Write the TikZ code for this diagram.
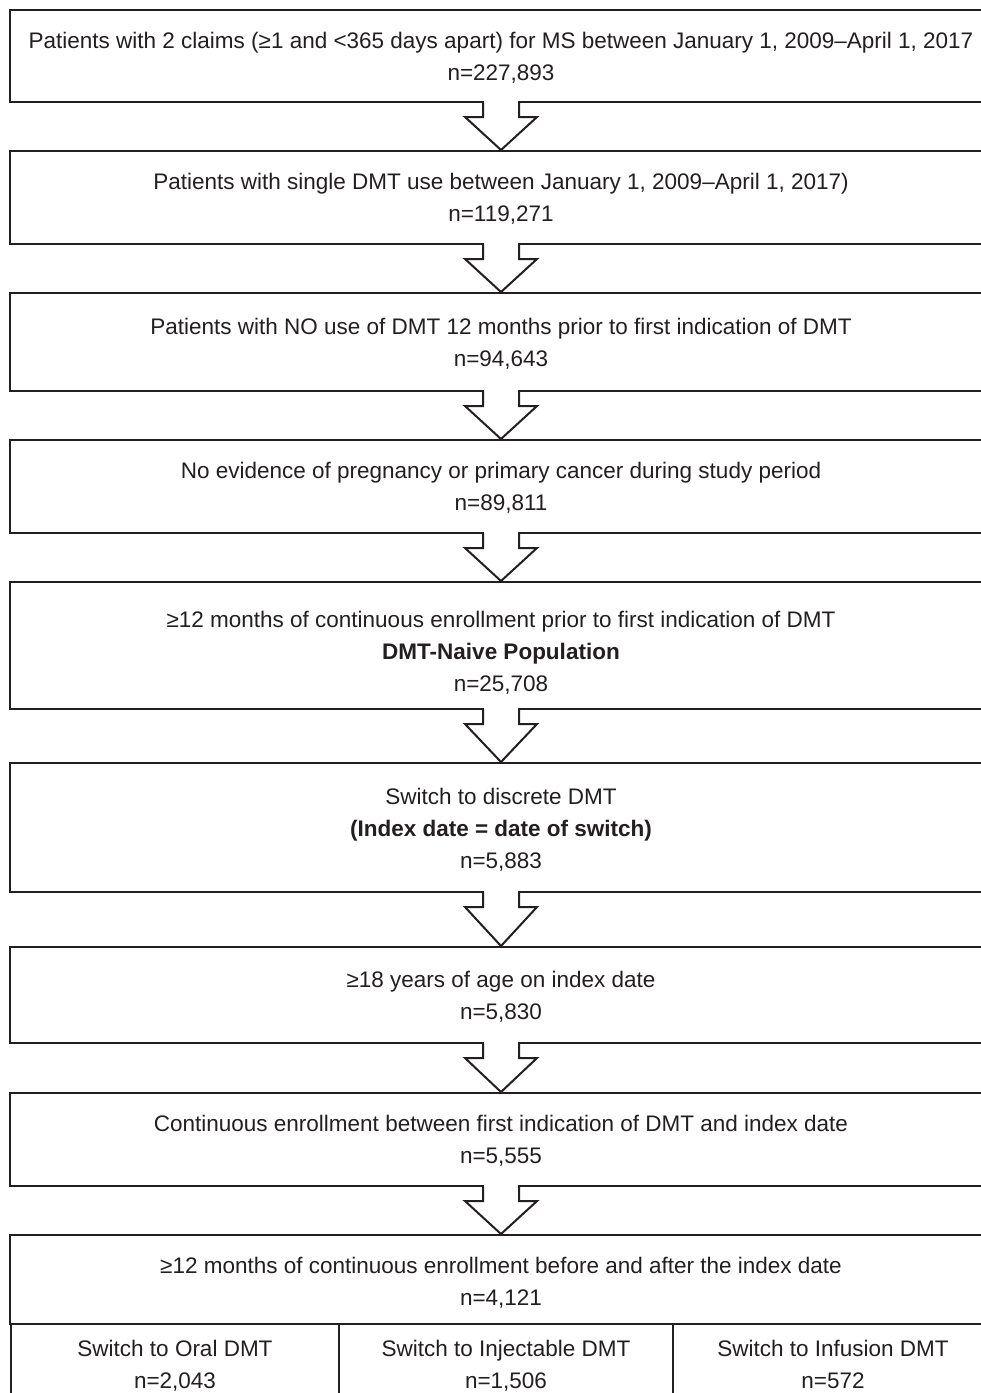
\documentclass[tikz,border=0pt]{standalone}
\usepackage{fontspec}
\setmainfont{Liberation Sans}
\usetikzlibrary{calc}
\definecolor{inkgray}{HTML}{231F20}
\tikzset{
	stagebox/.style = {shape=rectangle, draw=inkgray, line width=2pt,
		align=center, text=inkgray, inner sep=0pt,
		minimum width=982pt, anchor=north,
		font=\fontsize{22.5}{32}\selectfont,
		execute at end node={\strut}},
	splitbox/.style = {stagebox, anchor=north west},
	flowarrow/.style = {draw=inkgray, line width=2pt, fill=white}
}
% invisible strut that pushes the first line down
\newcommand{\padtop}[1]{\rule{0pt}{#1}}
% open block arrow from the bottom of one box to the top of the next
\newcommand{\stagearrow}[2]{%
	\fill[white] ($(#1.south)+(-17,-3)$) rectangle ($(#1.south)+(17,4)$);
	\filldraw[flowarrow] ($(#1.south)+(-18,-1)$) -- ++(0,15) -- ++(-18,0)
	-- (#2.north) -- ($(#1.south)+(36,14)$) -- ++(-18,0) -- ++(0,-15);}

\begin{document}
\begin{tikzpicture}[x=1pt, y=-1pt]
	\useasboundingbox (0,0) rectangle (981,1393);
	\clip (0,0) rectangle (981,1393);
	\fill[white] (0,0) rectangle (981,1393);

	\node [stagebox, minimum height=92pt] (claims) at (501,9)
	{\padtop{26pt}Patients with 2 claims (≥1 and <365 days apart) for MS between January 1, 2009–April 1, 2017\\ n=227,893};
	\node [stagebox, minimum height=93pt] (single) at (501,150)
	{\padtop{26pt}Patients with single DMT use between January 1, 2009–April 1, 2017)\\ n=119,271};
	\node [stagebox, minimum height=98pt] (nouse) at (501,292)
	{\padtop{26pt}Patients with NO use of DMT 12 months prior to first indication of DMT\\ n=94,643};
	\node [stagebox, minimum height=93pt] (nopreg) at (501,439)
	{\padtop{26pt}No evidence of pregnancy or primary cancer during study period\\ n=89,811};
	\node [stagebox, minimum height=127pt] (naive) at (501,581)
	{\padtop{38pt}≥12 months of continuous enrollment prior to first indication of DMT\\
		\textbf{DMT-Naive Population}\\ n=25,708};
	\node [stagebox, minimum height=129pt] (switch) at (501,762)
	{\padtop{28pt}Switch to discrete DMT\\ \textbf{(Index date = date of switch)}\\ n=5,883};
	\node [stagebox, minimum height=96pt] (adult) at (501,946)
	{\padtop{26pt}≥18 years of age on index date\\ n=5,830};
	\node [stagebox, minimum height=93pt] (between) at (501,1092)
	{\padtop{26pt}Continuous enrollment between first indication of DMT and index date\\ n=5,555};
	\node [stagebox, minimum height=89pt] (final) at (501,1234)
	{\padtop{30pt}≥12 months of continuous enrollment before and after the index date\\ n=4,121};

	\node [splitbox, minimum width=328pt, minimum height=82pt] (oral) at (10,1323)
	{\padtop{24pt}Switch to Oral DMT\\ n=2,043};
	\node [splitbox, minimum width=334pt, minimum height=82pt] (inject) at (338,1323)
	{\padtop{24pt}Switch to Injectable DMT\\ n=1,506};
	\node [splitbox, minimum width=320pt, minimum height=82pt] (infusion) at (672,1323)
	{\padtop{24pt}Switch to Infusion DMT\\ n=572};

	\stagearrow{claims}{single}
	\stagearrow{single}{nouse}
	\stagearrow{nouse}{nopreg}
	\stagearrow{nopreg}{naive}
	\stagearrow{naive}{switch}
	\stagearrow{switch}{adult}
	\stagearrow{adult}{between}
	\stagearrow{between}{final}
\end{tikzpicture}
\end{document}
